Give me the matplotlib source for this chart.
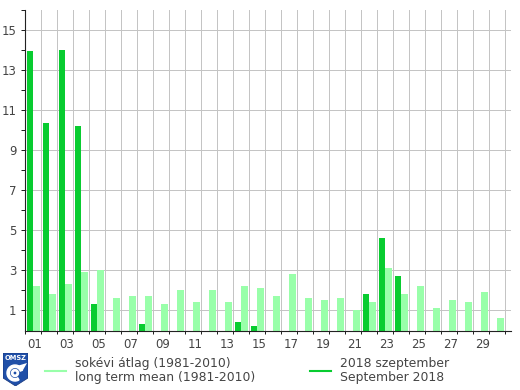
import numpy as np
import matplotlib
matplotlib.use('Agg')
import matplotlib.pyplot as plt
from matplotlib.lines import Line2D
from matplotlib.patches import Polygon, Wedge

# Adatok
days = np.arange(1, 31)
mean_values = [2.2, 1.8, 2.3, 2.9, 3.0, 1.6, 1.7, 1.7, 1.3, 2.0,
               1.4, 2.0, 1.4, 2.2, 2.1, 1.7, 2.8, 1.6, 1.5, 1.6,
               1.0, 1.4, 3.1, 1.8, 2.2, 1.1, 1.5, 1.4, 1.9, 0.6]
sept_values = [13.95, 10.35, 14.0, 10.2, 1.3, 0, 0, 0.3, 0, 0,
               0, 0, 0, 0.4, 0.2, 0, 0, 0, 0, 0,
               0, 1.8, 4.6, 2.7, 0, 0, 0, 0, 0, 0]
y_major = [1, 3, 5, 7, 9, 11, 13, 15]
x_labels = ['01', '03', '05', '07', '09', '11', '13', '15',
            '17', '19', '21', '23', '25', '27', '29']

light = '#99FFAA'
dark = '#08CC30'
grid = '#C4C4C4'
text_col = '#444444'

W, H = 520, 390
fig = plt.figure(figsize=(W / 100, H / 100), dpi=100)
# tengely: x 25..511, y 10..330.5 pixel
ax = fig.add_axes([25 / W, 1 - 330.5 / H, 486 / W, 320.5 / H])

left = days - 1
ax.bar(left + 0.125, sept_values, width=0.375, align='edge', color=dark, zorder=3)
ax.bar(left + 0.5, mean_values, width=0.44, align='edge', color=light, zorder=3)

ax.set_xlim(0, 30.375)
ax.set_ylim(0, 16.02)

ax.set_xticks(np.arange(0, 31))
ax.set_xticklabels([])
ax.set_yticks(np.arange(1, 17))
ax.set_yticklabels([str(v) if v in y_major else '' for v in range(1, 17)])
ax.tick_params(axis='y', length=3, width=0.72, color='#222222', labelcolor=text_col,
               labelsize=8.5, pad=3)
ax.tick_params(axis='x', length=2.5, width=0.72, color='#222222')

# racsvonalak
for v in y_major:
    ax.axhline(v, color=grid, lw=0.72, zorder=1)
for v in range(1, 31):
    ax.axvline(v, color=grid, lw=0.72, zorder=1)

for s in ['top', 'right']:
    ax.spines[s].set_visible(False)
for s in ['left', 'bottom']:
    ax.spines[s].set_color('#222222')
    ax.spines[s].set_linewidth(0.8)
    ax.spines[s].set_zorder(4)

# napok feliratai
for i, lab in enumerate(x_labels):
    ax.text(2 * i + 0.62, -0.72, lab, ha='center', va='center', fontsize=8.5,
            color=text_col, clip_on=False)


def px(x, y):
    return x / W, 1 - y / H


# jelmagyarazat
fig.add_artist(Line2D([45 / W, 66 / W], [1 - 370.5 / H] * 2, color=light, lw=1.5))
fig.add_artist(Line2D([310 / W, 331 / W], [1 - 370.5 / H] * 2, color=dark, lw=1.5))
legend_items = [(75, 364, 'sokévi átlag (1981-2010)'),
                (75, 378, 'long term mean (1981-2010)'),
                (340, 364, '2018 szeptember'),
                (340, 378, 'September 2018')]
for x, y, s in legend_items:
    fig.text(*px(x, y), s, ha='left', va='center', fontsize=8.9, color=text_col)

# OMSZ logo
logo_ax = fig.add_axes([3 / W, 1 - 386 / H, 25 / W, 33 / H], zorder=5)
logo_ax.set_xlim(0, 25)
logo_ax.set_ylim(0, 33)
logo_ax.axis('off')
logo_ax.add_patch(Polygon([(0, 33), (25, 33), (25, 8), (12.5, 0), (0, 8)], closed=True,
                          fc='#1F4FA8', ec='#16357A', lw=0.5))
logo_ax.text(12.5, 27.5, 'OMSZ', ha='center', va='center', fontsize=4.8,
             color='white', fontweight='bold')
logo_ax.add_patch(Wedge((12, 13), 8, 20, 300, width=2.4, color='white'))
logo_ax.add_patch(Wedge((12, 13), 3.5, 0, 360, width=1.4, color='white'))
logo_ax.add_patch(Polygon([(14, 20), (24, 23), (20, 16)], closed=True, fc='white', ec='none'))

fig.savefig('out.png', dpi=100)
